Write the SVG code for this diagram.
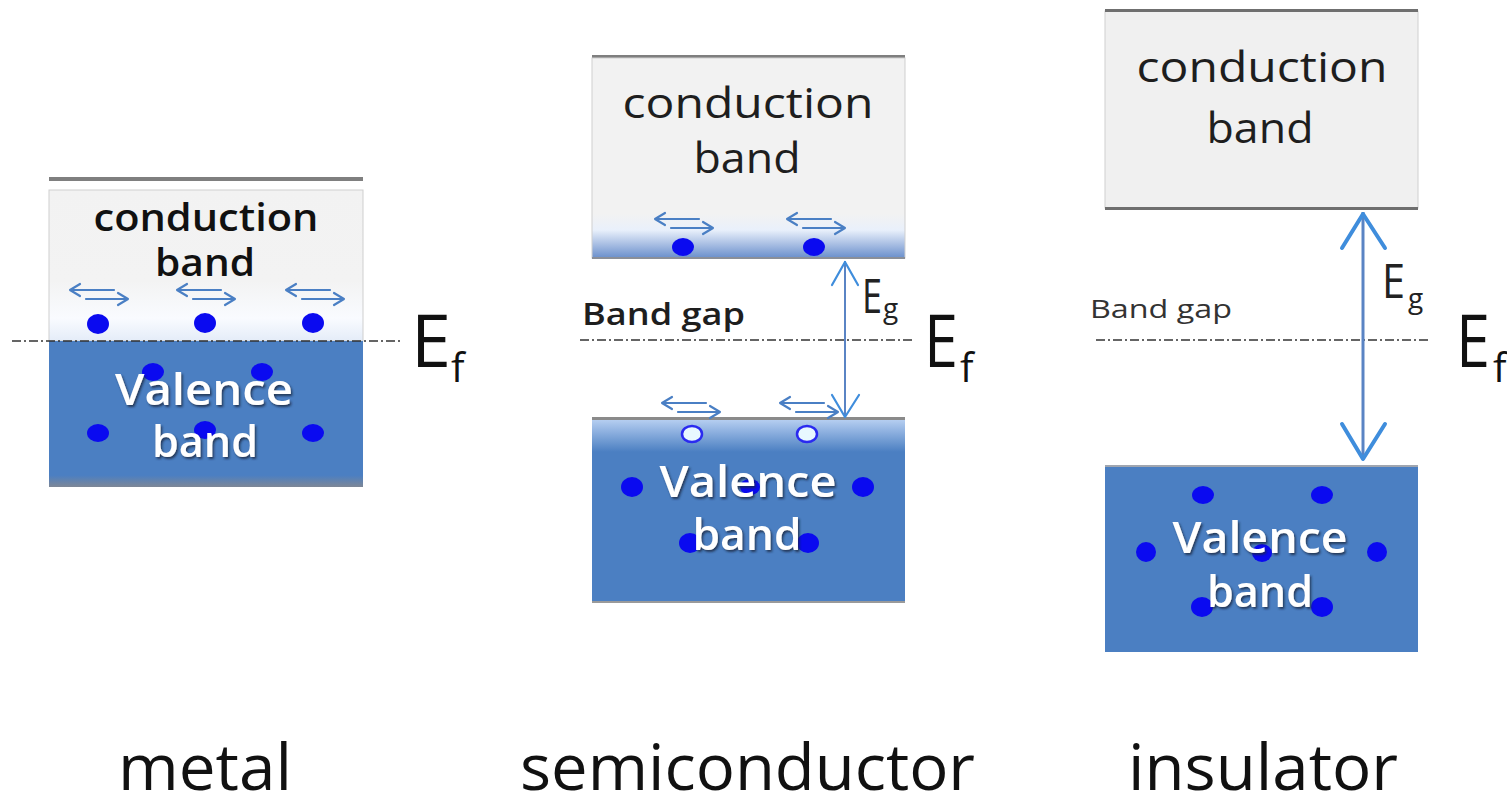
<svg xmlns="http://www.w3.org/2000/svg" width="1507" height="800" viewBox="0 0 1507 800">
<style>
text{font-family:"Open Sans","Liberation Sans",sans-serif}
.cb{fill:#1e1e1e;font-size:42px}
.cbm{fill:#111;font-size:38px;font-weight:600}
.vb{fill:#ffffff;font-size:44px;font-weight:600;filter:url(#sh)}
.big{fill:#111;font-size:64px}
.ef{fill:#111;font-size:74px}
.efs{fill:#111;font-size:40px}
.eg{fill:#222;font-size:48px}
.egs{fill:#222;font-size:28px}
.dot{fill:#0a0af0}
.hole{fill:#e8f8ff;stroke:#2a2af0;stroke-width:2.5}
.dd{stroke:#333;stroke-width:1.5;stroke-dasharray:9 3 2 3;fill:none}
.val{fill:#4b7fc2}
.gl{fill:#7f7f7f}
.arr{fill:none;stroke:#4a7fc4;stroke-width:2.2;stroke-linecap:round;stroke-linejoin:round}
.eglin{stroke:#5a84c4;fill:none}
.egh{stroke:#3f8ddc;fill:none;stroke-linecap:round;stroke-linejoin:round}
</style>
<defs>
<filter id="sh" x="-10%" y="-20%" width="130%" height="150%">
<feDropShadow dx="1.5" dy="2" stdDeviation="1.2" flood-color="#1a2540" flood-opacity="0.8"/>
</filter>
<linearGradient id="gm" x1="0" y1="0" x2="0" y2="1">
<stop offset="0" stop-color="#f2f2f2"/>
<stop offset="0.6" stop-color="#f3f3f3"/>
<stop offset="0.85" stop-color="#f9fbff"/>
<stop offset="1" stop-color="#e4ecf8"/>
</linearGradient>
<linearGradient id="gs" x1="0" y1="0" x2="0" y2="1">
<stop offset="0" stop-color="#f2f2f2"/>
<stop offset="0.78" stop-color="#f2f2f2"/>
<stop offset="0.86" stop-color="#e9f0fb"/>
<stop offset="1" stop-color="#6a8fcc"/>
</linearGradient>
<linearGradient id="gv" x1="0" y1="0" x2="0" y2="1">
<stop offset="0" stop-color="#b8d0f2"/>
<stop offset="0.18" stop-color="#4b7fc2"/>
<stop offset="1" stop-color="#4b7fc2"/>
</linearGradient>
<linearGradient id="gmb" x1="0" y1="0" x2="0" y2="1">
<stop offset="0" stop-color="#4b7fc2"/>
<stop offset="0.92" stop-color="#4b7fc2"/>
<stop offset="1" stop-color="#7e8796"/>
</linearGradient>
<path id="dbl" class="arr" d="M0,0 H44 M10,-6 L0,0 L10,6 M16,9 H58 M48,3 L58,9 L48,15"/>
</defs>

<g id="metal">
<rect class="gl" x="49" y="177" width="314" height="4"/>
<rect x="49" y="190" width="314" height="151" fill="url(#gm)" stroke="#cfcfcf" stroke-width="1"/>
<rect x="49" y="341" width="314" height="146" fill="url(#gmb)"/>
<text class="cbm" x="206" y="231" text-anchor="middle" textLength="225" lengthAdjust="spacingAndGlyphs">conduction</text>
<text class="cbm" x="205" y="276" text-anchor="middle" textLength="100" lengthAdjust="spacingAndGlyphs">band</text>
<use href="#dbl" x="70" y="290"/>
<use href="#dbl" x="177" y="290"/>
<use href="#dbl" x="286" y="290"/>
<ellipse class="dot" cx="98" cy="324" rx="11" ry="10"/>
<ellipse class="dot" cx="205" cy="323" rx="11" ry="10"/>
<ellipse class="dot" cx="313" cy="323" rx="11" ry="10"/>
<ellipse class="dot" cx="153" cy="372" rx="11" ry="9"/>
<ellipse class="dot" cx="262" cy="372" rx="11" ry="9"/>
<ellipse class="dot" cx="98" cy="433" rx="11" ry="9"/>
<ellipse class="dot" cx="205" cy="430" rx="11" ry="9"/>
<ellipse class="dot" cx="313" cy="433" rx="11" ry="9"/>
<text class="vb" x="204" y="405" text-anchor="middle" textLength="178" lengthAdjust="spacingAndGlyphs">Valence</text>
<text class="vb" x="205" y="457" text-anchor="middle" textLength="106" lengthAdjust="spacingAndGlyphs">band</text>
<line class="dd" x1="12" y1="341" x2="400" y2="341"/>
<text class="ef" x="411" y="367" textLength="40" lengthAdjust="spacingAndGlyphs">E</text>
<text class="efs" x="451" y="382">f</text>
<text class="big" x="118" y="790" textLength="174" lengthAdjust="spacingAndGlyphs">metal</text>
</g>

<g id="semiconductor">
<rect class="gl" x="592" y="55" width="313" height="3"/>
<rect x="592" y="58" width="313" height="200" fill="url(#gs)" stroke="#cfcfcf" stroke-width="1"/>
<rect x="592" y="257" width="313" height="2" fill="#8a8f99"/>
<text class="cb" x="748" y="118" text-anchor="middle" textLength="251" lengthAdjust="spacingAndGlyphs">conduction</text>
<text class="cb" x="747" y="173" text-anchor="middle" textLength="107" lengthAdjust="spacingAndGlyphs">band</text>
<use href="#dbl" x="655" y="219"/>
<use href="#dbl" x="787" y="219"/>
<ellipse class="dot" cx="683" cy="247" rx="11" ry="9"/>
<ellipse class="dot" cx="814" cy="247" rx="11" ry="9"/>
<text x="582" y="325" fill="#1e1e1e" font-size="30" font-weight="600" textLength="163" lengthAdjust="spacingAndGlyphs">Band gap</text>
<line class="dd" x1="580" y1="340" x2="915" y2="340"/>
<rect x="592" y="419" width="313" height="183" fill="url(#gv)"/>
<rect x="592" y="417" width="313" height="3" fill="#8a8a8a"/>
<rect x="592" y="601" width="313" height="2" fill="#9a9a9a"/>
<ellipse class="hole" cx="692" cy="434" rx="10" ry="8"/>
<ellipse class="hole" cx="807" cy="434" rx="10" ry="8"/>
<use href="#dbl" x="662" y="403"/>
<use href="#dbl" x="780" y="403"/>
<ellipse class="dot" cx="632" cy="487" rx="11" ry="10"/>
<ellipse class="dot" cx="863" cy="487" rx="11" ry="10"/>
<ellipse class="dot" cx="750" cy="487" rx="10" ry="8"/>
<ellipse class="dot" cx="690" cy="543" rx="11" ry="10"/>
<ellipse class="dot" cx="808" cy="543" rx="11" ry="10"/>
<text class="vb" x="748" y="497" text-anchor="middle" textLength="177" lengthAdjust="spacingAndGlyphs">Valence</text>
<text class="vb" x="747" y="550" text-anchor="middle" textLength="109" lengthAdjust="spacingAndGlyphs">band</text>
<text class="eg" x="862" y="313" textLength="20" lengthAdjust="spacingAndGlyphs">E</text>
<text class="egs" x="883" y="318">g</text>
<text class="ef" x="924" y="367" textLength="34" lengthAdjust="spacingAndGlyphs">E</text>
<text class="efs" x="960" y="382">f</text>
<text class="big" x="520" y="790" textLength="455" lengthAdjust="spacingAndGlyphs">semiconductor</text>
</g>

<g id="insulator">
<rect x="1105" y="11" width="313" height="197" fill="#f0f0f0" stroke="#d0d0d0" stroke-width="1"/>
<rect x="1105" y="9" width="313" height="3" fill="#6f6f6f"/>
<rect x="1105" y="207" width="313" height="3" fill="#6f6f6f"/>
<text class="cb" x="1262" y="82" text-anchor="middle" textLength="251" lengthAdjust="spacingAndGlyphs">conduction</text>
<text class="cb" x="1260" y="143" text-anchor="middle" textLength="107" lengthAdjust="spacingAndGlyphs">band</text>
<text x="1090" y="318" fill="#333" font-size="26" textLength="142" lengthAdjust="spacingAndGlyphs">Band gap</text>
<line class="dd" x1="1096" y1="340" x2="1430" y2="340"/>
<rect x="1105" y="466" width="313" height="186" class="val"/>
<rect x="1105" y="465" width="313" height="2" fill="#a0a6b0"/>
<ellipse class="dot" cx="1203" cy="495" rx="11" ry="9"/>
<ellipse class="dot" cx="1322" cy="495" rx="11" ry="9"/>
<ellipse class="dot" cx="1146" cy="552" rx="10" ry="10"/>
<ellipse class="dot" cx="1262" cy="553" rx="10" ry="9"/>
<ellipse class="dot" cx="1377" cy="552" rx="10" ry="10"/>
<ellipse class="dot" cx="1202" cy="607" rx="11" ry="10"/>
<ellipse class="dot" cx="1322" cy="607" rx="11" ry="10"/>
<text class="vb" x="1260" y="553" text-anchor="middle" textLength="175" lengthAdjust="spacingAndGlyphs">Valence</text>
<text class="vb" x="1260" y="607" text-anchor="middle" textLength="106" lengthAdjust="spacingAndGlyphs">band</text>
<text class="eg" x="1382" y="298" textLength="23" lengthAdjust="spacingAndGlyphs">E</text>
<text class="egs" x="1408" y="308">g</text>
<text class="ef" x="1456" y="367" textLength="34" lengthAdjust="spacingAndGlyphs">E</text>
<text class="efs" x="1493" y="382">f</text>
<text class="big" x="1128" y="790" textLength="270" lengthAdjust="spacingAndGlyphs">insulator</text>
</g>

<g id="connectors">
<line class="eglin" x1="845" y1="261" x2="845" y2="417" stroke-width="2"/>
<path class="egh" d="M832,285 L845,262 L858,285" stroke-width="2.2"/>
<path class="egh" d="M832,395 L845,417 L859,395" stroke-width="2.2"/>
<line class="eglin" x1="1363" y1="212" x2="1363" y2="459" stroke-width="3"/>
<path class="egh" d="M1342,248 L1363,214 L1385,248" stroke-width="4"/>
<path class="egh" d="M1342,424 L1363,459 L1385,424" stroke-width="4"/>
</g>
</svg>
